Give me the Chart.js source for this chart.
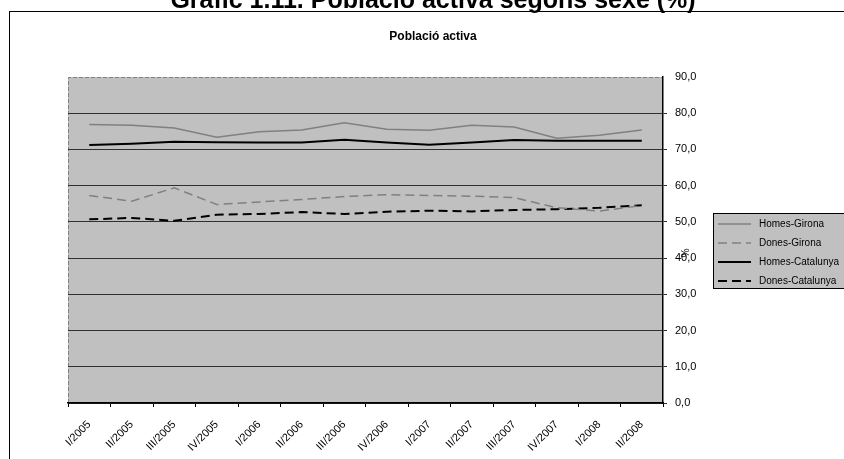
<!DOCTYPE html>
<html>
<head>
<meta charset="utf-8">
<script src="https://cdn.jsdelivr.net/npm/chart.js@4/dist/chart.umd.min.js"></script>
<style>
html,body{margin:0;padding:0;background:#fff;}
#wrap{position:relative;width:844px;height:459px;}
</style>
</head>
<body>
<div id="wrap"><canvas id="c" width="844" height="459"></canvas></div>
<script>
const mainTitle = "Gràfic 1.11. Població activa segons sexe (%)";
const chartTitle = "Població activa";
const axisTitle = "%";
const categories = ["I/2005","II/2005","III/2005","IV/2005","I/2006","II/2006","III/2006","IV/2006","I/2007","II/2007","III/2007","IV/2007","I/2008","II/2008"];
const seriesNames = ["Homes-Girona","Dones-Girona","Homes-Catalunya","Dones-Catalunya"];
const homesGirona = [76.9, 76.7, 75.9, 73.4, 74.9, 75.4, 77.4, 75.6, 75.3, 76.7, 76.2, 73.1, 73.9, 75.4];
const donesGirona = [57.3, 55.7, 59.4, 54.8, 55.5, 56.2, 57.0, 57.5, 57.3, 57.1, 56.7, 53.9, 53.0, 54.5];
const homesCatalunya = [71.2, 71.6, 72.1, 72.0, 71.9, 71.9, 72.7, 71.9, 71.3, 71.9, 72.6, 72.4, 72.4, 72.4];
const donesCatalunya = [50.7, 51.1, 50.3, 52.0, 52.2, 52.7, 52.2, 52.8, 53.1, 52.9, 53.3, 53.5, 53.9, 54.6];
const yTicks = [0,10,20,30,40,50,60,70,80,90];

const FONT = "Arial, 'Liberation Sans', sans-serif";

const decorPlugin = {
  id: 'decor',
  beforeDraw(chart) {
    const ctx = chart.ctx, a = chart.chartArea;
    ctx.save();
    ctx.fillStyle = '#fff';
    ctx.fillRect(0,0,chart.width,chart.height);
    ctx.strokeStyle = '#000';
    ctx.lineWidth = 1;
    ctx.strokeRect(9.5, 11.5, 860, 470);
    ctx.fillStyle = '#c0c0c0';
    ctx.fillRect(a.left, a.top, a.right - a.left, a.bottom - a.top);
    ctx.strokeStyle = '#808080';
    ctx.setLineDash([4,2]);
    ctx.beginPath();
    ctx.moveTo(a.left + 0.5, a.bottom);
    ctx.lineTo(a.left + 0.5, a.top + 0.5);
    ctx.lineTo(a.right, a.top + 0.5);
    ctx.stroke();
    ctx.setLineDash([]);
    ctx.restore();
  },
  afterDraw(chart) {
    const ctx = chart.ctx;
    ctx.save();
    ctx.fillStyle = '#000';
    ctx.textAlign = 'center';
    ctx.textBaseline = 'alphabetic';
    ctx.font = "bold 25px " + FONT;
    ctx.fillText(mainTitle, 433, 8);
    ctx.font = "bold 12px " + FONT;
    ctx.textBaseline = 'middle';
    ctx.fillText(chartTitle, 433, 37);
    ctx.save();
    ctx.translate(684, 253);
    ctx.rotate(Math.PI/2);
    ctx.font = "10px " + FONT;
    ctx.fillText(axisTitle, 0, 0);
    ctx.restore();
    const lx = 713, ly = 213, lw = 140, lh = 75;
    ctx.fillStyle = '#c0c0c0';
    ctx.fillRect(lx, ly, lw, lh);
    ctx.strokeStyle = '#000';
    ctx.lineWidth = 1;
    ctx.strokeRect(lx + 0.5, ly + 0.5, lw, lh);
    chart.data.datasets.forEach((ds, i) => {
      const y = 224 + i * 19;
      ctx.strokeStyle = ds.borderColor;
      ctx.lineWidth = ds.borderWidth;
      ctx.setLineDash(ds.borderDash || []);
      ctx.beginPath();
      ctx.moveTo(718, y);
      ctx.lineTo(751, y);
      ctx.stroke();
      ctx.setLineDash([]);
      ctx.fillStyle = '#000';
      ctx.font = "10px " + FONT;
      ctx.textAlign = 'left';
      ctx.textBaseline = 'middle';
      ctx.fillText(ds.label, 759, y);
    });
    ctx.restore();
  }
};

const styles = [
  {borderColor:'#808080', borderWidth:1.5, borderDash:[]},
  {borderColor:'#808080', borderWidth:1.5, borderDash:[9,5]},
  {borderColor:'#000000', borderWidth:2, borderDash:[]},
  {borderColor:'#000000', borderWidth:2, borderDash:[9,5]}
];
const values = [homesGirona, donesGirona, homesCatalunya, donesCatalunya];

new Chart(document.getElementById('c'), {
  type: 'line',
  data: {
    labels: categories,
    datasets: seriesNames.map((n, i) => ({
      label: n,
      data: values[i],
      borderColor: styles[i].borderColor,
      borderWidth: styles[i].borderWidth,
      borderDash: styles[i].borderDash,
      pointRadius: 0,
      fill: false,
      tension: 0
    }))
  },
  options: {
    responsive: false,
    animation: false,
    devicePixelRatio: 1,
    layout: { padding: { left: 68, top: 77, right: 131, bottom: 0 } },
    plugins: { legend: { display: false }, title: { display: false }, tooltip: { enabled: false } },
    scales: {
      x: {
        offset: true,
        grid: { drawOnChartArea: false, offset: true, tickLength: 4, color: '#000' },
        border: { color: '#000', width: 1.5 },
        ticks: { color: '#000', font: { size: 11, family: FONT }, maxRotation: 45, minRotation: 45, autoSkip: false, padding: 11 },
        afterFit(s) { s.height = 56; }
      },
      y: {
        position: 'right',
        min: 0, max: 90,
        afterBuildTicks(s) { s.ticks = yTicks.map(v => ({ value: v })); },
        grid: {
          tickLength: 4,
          color: (c) => (c.tick && c.tick.value === 90) ? 'rgba(0,0,0,0)' : '#303030',
          lineWidth: 1
        },
        border: { color: '#000', width: 1.5 },
        ticks: {
          color: '#000', padding: 8,
          font: { size: 11, family: FONT },
          callback: (v) => Number(v).toFixed(1).replace('.', ',')
        },
        afterFit(s) { s.width = 50; }
      }
    }
  },
  plugins: [decorPlugin]
});
</script>
</body>
</html>
